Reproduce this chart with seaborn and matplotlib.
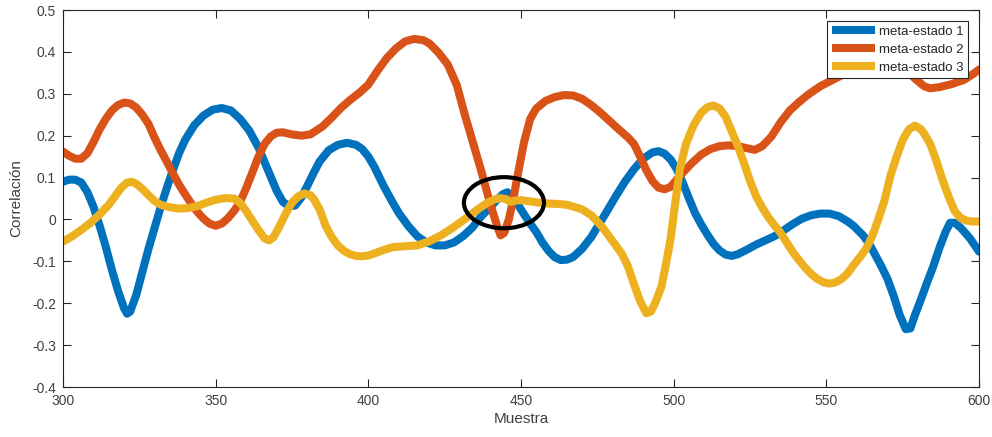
import matplotlib
matplotlib.use("Agg")
import matplotlib.pyplot as plt
from matplotlib.patches import Ellipse
import seaborn as sns
import pandas as pd

# meta-estado 1 (azul)
x1 = [300, 302, 304, 306, 308, 310, 312, 314, 316, 318, 320, 321, 322, 324, 326, 328,
      330, 332, 334, 336, 338, 340, 343, 346, 349, 352, 355, 358, 361, 364, 367, 370,
      372, 374, 376, 378, 380, 382, 384, 387, 390, 393, 396, 398, 400, 402, 405, 408,
      410, 413, 416, 419, 422, 425, 428, 431, 434, 437, 440, 442, 444, 445.5, 447, 449,
      451, 453, 455, 457, 459, 461, 463, 465, 467, 470, 473, 475, 478, 481, 484, 487,
      490, 493, 495, 497, 499, 501, 503, 505, 507, 509, 511, 513, 515, 517, 519, 521,
      524, 527, 530, 533, 536, 539, 542, 545, 548, 551, 554, 557, 559, 562, 564, 566,
      568, 570, 572, 574, 576, 577.5, 579, 581, 583, 585, 587, 589, 590.5, 592, 594,
      597, 600]
y1 = [0.090, 0.095, 0.095, 0.088, 0.065, 0.030, -0.015, -0.065, -0.120, -0.170, -0.212,
      -0.225, -0.220, -0.180, -0.125, -0.070, -0.020, 0.030, 0.075, 0.118, 0.158, 0.190,
      0.225, 0.248, 0.262, 0.266, 0.260, 0.240, 0.212, 0.172, 0.120, 0.068, 0.042,
      0.032, 0.033, 0.052, 0.080, 0.110, 0.138, 0.165, 0.178, 0.183, 0.178, 0.168,
      0.150, 0.125, 0.080, 0.040, 0.015, -0.015, -0.040, -0.055, -0.062, -0.062, -0.055,
      -0.040, -0.020, 0.008, 0.030, 0.046, 0.060, 0.065, 0.055, 0.035, 0.012, -0.010,
      -0.030, -0.055, -0.075, -0.090, -0.097, -0.096, -0.090, -0.070, -0.042, -0.018,
      0.018, 0.055, 0.090, 0.120, 0.145, 0.160, 0.163, 0.157, 0.143, 0.120, 0.087,
      0.050, 0.015, -0.012, -0.036, -0.058, -0.074, -0.084, -0.087, -0.083, -0.072,
      -0.060, -0.050, -0.040, -0.026, -0.011, 0.002, 0.010, 0.014, 0.014, 0.008, -0.005,
      -0.016, -0.038, -0.058, -0.085, -0.112, -0.142, -0.182, -0.228, -0.262, -0.260,
      -0.228, -0.190, -0.150, -0.112, -0.068, -0.030, -0.008, -0.008, -0.020, -0.045,
      -0.077]

# meta-estado 2 (naranja)
x2 = [300, 302, 304, 306, 308, 310, 312, 314, 316, 318, 320, 322, 324, 326, 328, 330,
      332, 334, 336, 338, 340, 342, 344, 346, 348, 350, 352, 354, 356, 358, 360, 362,
      364, 366, 368, 370, 372, 375, 378, 381, 385, 388, 391, 394, 397, 400, 403, 406,
      409, 412, 415, 418, 420, 423, 426, 429, 431.5, 434, 437, 440, 442, 443.3, 444.5,
      446, 447.5, 449, 451, 453, 455, 458, 461, 464, 467, 470, 473, 476, 479, 482, 485,
      487, 489, 491, 493, 495, 497, 499, 501, 503, 506, 509, 512, 515, 518, 521, 524,
      526.5, 529, 532, 535, 538, 541, 544, 548, 552, 556, 561, 566, 571, 575, 578, 580,
      582, 584, 587, 591, 595, 598, 600]
y2 = [0.162, 0.152, 0.145, 0.145, 0.158, 0.185, 0.215, 0.240, 0.260, 0.273, 0.279,
      0.277, 0.267, 0.250, 0.228, 0.195, 0.165, 0.138, 0.110, 0.083, 0.060, 0.038,
      0.018, 0.002, -0.010, -0.015, -0.010, 0.003, 0.020, 0.042, 0.075, 0.112, 0.150,
      0.180, 0.198, 0.207, 0.208, 0.203, 0.200, 0.203, 0.222, 0.243, 0.266, 0.285,
      0.302, 0.322, 0.355, 0.385, 0.408, 0.425, 0.431, 0.428, 0.420, 0.398, 0.370,
      0.320, 0.252, 0.190, 0.115, 0.035, -0.012, -0.038, -0.032, 0.000, 0.050, 0.110,
      0.185, 0.240, 0.265, 0.283, 0.292, 0.297, 0.296, 0.288, 0.273, 0.255, 0.235,
      0.215, 0.196, 0.180, 0.150, 0.118, 0.092, 0.076, 0.072, 0.078, 0.095, 0.112,
      0.135, 0.155, 0.168, 0.175, 0.177, 0.175, 0.170, 0.166, 0.175, 0.198, 0.232,
      0.260, 0.280, 0.298, 0.318, 0.333, 0.348, 0.362, 0.370, 0.368, 0.358, 0.343,
      0.330, 0.318, 0.313, 0.316, 0.323, 0.333, 0.347, 0.358]

# meta-estado 3 (amarillo)
x3 = [300, 303, 306, 309, 312, 315, 317, 319, 321, 322.5, 324, 326, 328, 330, 332, 335,
      338, 341, 344, 347, 350, 353, 356, 358, 360, 362, 364, 366, 367.5, 369, 371, 373,
      375, 377, 379, 381, 382, 384, 386, 388, 390, 392, 394, 396, 398, 400, 402, 405,
      408, 412, 416, 420, 424, 428, 432, 436, 439, 441, 443, 445, 446.5, 448, 450, 453,
      456, 459, 462, 465, 467, 470, 473, 475, 477, 479, 481, 483, 485, 487, 489, 491,
      492.5, 494, 496, 497.5, 499, 500.5, 502, 504, 506.5, 509, 511, 513, 515, 517,
      519, 521, 523, 525, 527, 529, 531, 533, 535, 537, 539, 541, 543, 545, 547, 549,
      551, 553, 555, 557, 559, 561, 563, 565, 567, 569, 571, 573, 575, 577, 579, 581,
      582, 584, 586, 588, 590, 592, 594, 596, 598, 600]
y3 = [-0.053, -0.040, -0.025, -0.008, 0.012, 0.035, 0.055, 0.075, 0.088, 0.090, 0.085,
      0.073, 0.058, 0.044, 0.035, 0.029, 0.026, 0.027, 0.032, 0.040, 0.047, 0.051,
      0.050, 0.040, 0.020, -0.003, -0.025, -0.045, -0.050, -0.042, -0.015, 0.015,
      0.040, 0.055, 0.062, 0.058, 0.050, 0.025, -0.015, -0.042, -0.062, -0.075, -0.083,
      -0.087, -0.088, -0.086, -0.081, -0.073, -0.066, -0.064, -0.062, -0.052, -0.037,
      -0.018, 0.003, 0.025, 0.040, 0.047, 0.051, 0.049, 0.042, 0.045, 0.046, 0.043,
      0.040, 0.038, 0.037, 0.035, 0.031, 0.024, 0.010, -0.005, -0.022, -0.042, -0.062,
      -0.082, -0.112, -0.155, -0.195, -0.224, -0.220, -0.198, -0.160, -0.105, -0.045,
      0.040, 0.120, 0.180, 0.225, 0.255, 0.268, 0.272, 0.265, 0.245, 0.210, 0.175,
      0.135, 0.092, 0.055, 0.028, 0.005, -0.014, -0.032, -0.055, -0.078, -0.097,
      -0.115, -0.130, -0.142, -0.150, -0.153, -0.150, -0.142, -0.128, -0.108, -0.090,
      -0.070, -0.040, 0.000, 0.045, 0.105, 0.150, 0.190, 0.215, 0.224, 0.215, 0.205,
      0.180, 0.140, 0.095, 0.055, 0.020, 0.003, -0.003, -0.005, -0.005]

etiquetas = ['meta-estado 1', 'meta-estado 2', 'meta-estado 3']
colores = ['#0072BD', '#D95319', '#EDB120']

sns.set_style("white")
plt.rcParams['font.family'] = ['Liberation Sans', 'DejaVu Sans']

fig = plt.figure(figsize=(9.92, 4.37), dpi=100)
ax = fig.add_axes([0.0635, 0.1144, 0.9235, 0.8627])

for xs, ys, lab, col in zip([x1, x2, x3], [y1, y2, y3], etiquetas, colores):
    df = pd.DataFrame({'Muestra': xs, 'Correlacion': ys})
    sns.lineplot(data=df, x='Muestra', y='Correlacion', ax=ax, color=col, label=lab,
                 linewidth=5.8, estimator=None, sort=True,
                 solid_joinstyle='round', solid_capstyle='round')

# elipse que marca la zona de interes
ax.add_patch(Ellipse((444.4, 0.040), width=26.2, height=0.122, fill=False,
                     edgecolor='black', linewidth=3, zorder=5))

ax.set_xlim(300, 600)
ax.set_ylim(-0.4, 0.5)
ax.set_xticks([300, 350, 400, 450, 500, 550, 600])
ax.set_yticks([-0.4, -0.3, -0.2, -0.1, 0, 0.1, 0.2, 0.3, 0.4, 0.5])
ax.set_yticklabels(['-0.4', '-0.3', '-0.2', '-0.1', '0', '0.1', '0.2', '0.3', '0.4', '0.5'])
ax.tick_params(direction='in', length=6, width=0.8, colors='#262626',
               labelcolor='#404040', labelsize=10, top=True, right=True,
               left=True, bottom=True, pad=5)
for sp in ax.spines.values():
    sp.set_color('#262626')
    sp.set_linewidth(0.8)

ax.set_xlabel('Muestra', fontsize=11, color='#404040', labelpad=3)
ax.set_ylabel('Correlación', fontsize=11, color='#404040', labelpad=6)

leg = ax.legend(loc='upper right', fontsize=9.5, frameon=True, fancybox=False,
                framealpha=1, edgecolor='#262626', handlelength=3.3,
                labelspacing=0.42, borderaxespad=0.85, handletextpad=0.25,
                borderpad=0.35)
leg.get_frame().set_linewidth(0.8)
for h in leg.get_lines():
    h.set_solid_capstyle('butt')

plt.savefig('out.png', dpi=100)
